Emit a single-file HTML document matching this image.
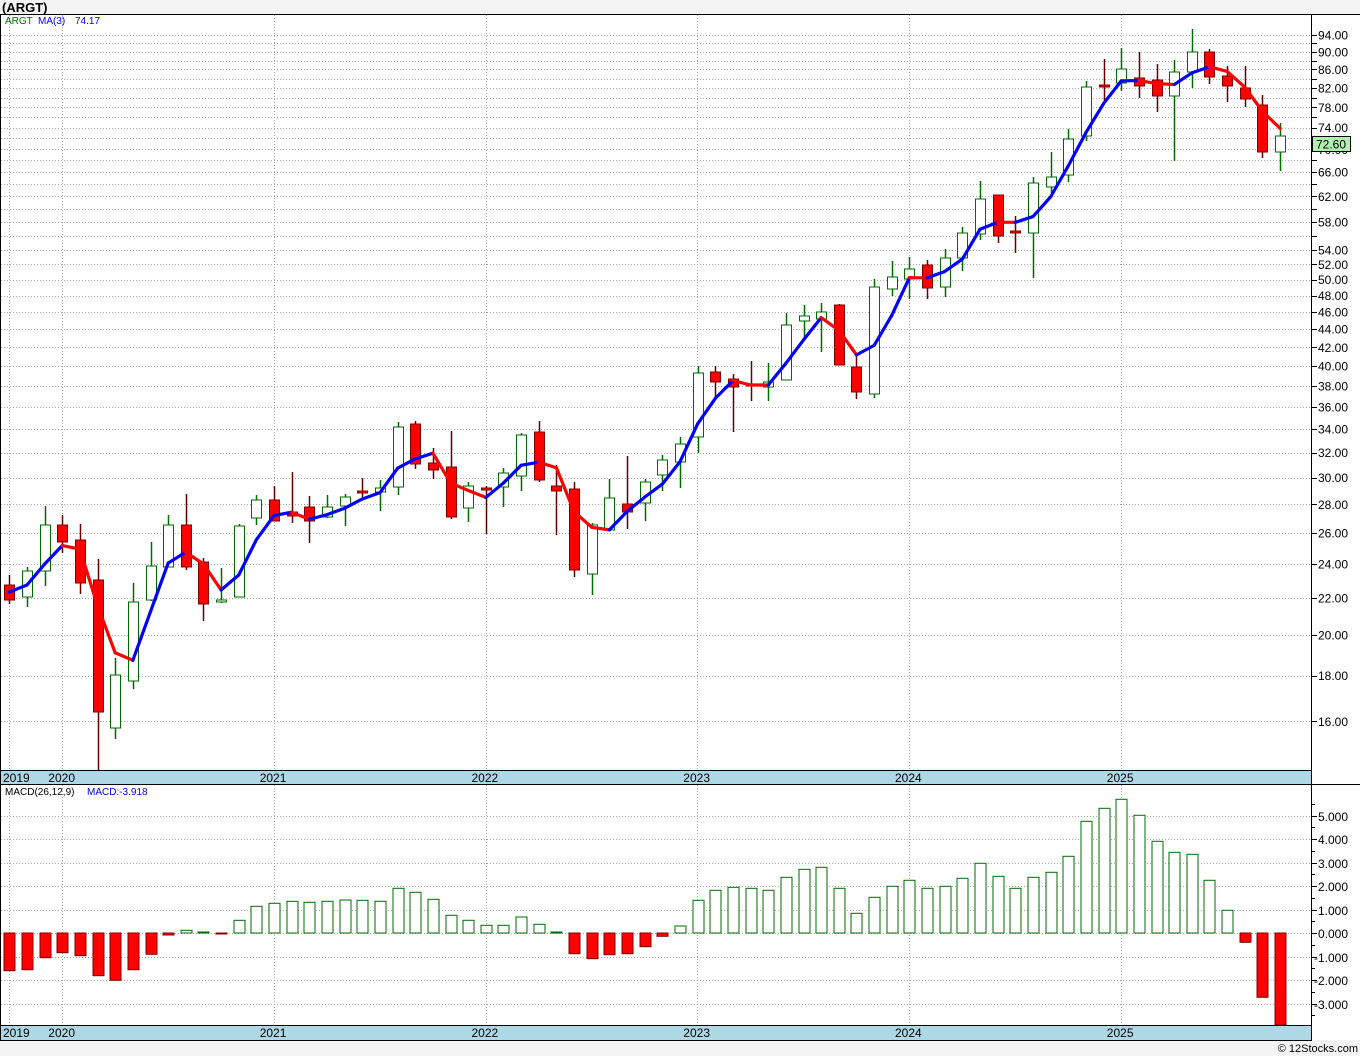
<!DOCTYPE html>
<html><head><meta charset="utf-8"><style>
html,body{margin:0;padding:0;background:#f4f4f4;}
svg{display:block;font-family:"Liberation Sans",sans-serif;}
</style></head><body>
<svg id="c" width="1360" height="1056" xmlns="http://www.w3.org/2000/svg">
<rect x="0" y="0" width="1360" height="1056" fill="#f4f4f4"/>
<text x="2" y="12" font-size="13" font-weight="bold" fill="#000">(ARGT)</text>
<rect x="0" y="14" width="1360" height="1026" fill="#fff"/>
<g id="g"></g>
</svg>
<script>
var S='';
function L(x1,y1,x2,y2,c,w,d){S+='<line x1="'+x1+'" y1="'+y1+'" x2="'+x2+'" y2="'+y2+'" stroke="'+c+'" stroke-width="'+(w||1)+'"'+(d?' stroke-dasharray="'+d+'"':'')+'/>';}
function R(x,y,w,h,f,s){S+='<rect x="'+x+'" y="'+y+'" width="'+w+'" height="'+h+'" fill="'+f+'"'+(s?' stroke="'+s+'" stroke-width="1"':'')+'/>';}
function T(x,y,t,c,sz,a){S+='<text x="'+x+'" y="'+y+'" font-size="'+(sz||12)+'" fill="'+(c||'#000')+'"'+(a?' text-anchor="'+a+'"':'')+'>'+t+'</text>';}
var LN94=Math.log(94),K=387.6;
function py(p){return 35+(LN94-Math.log(p))*K;}
function yp(y){return Math.exp(LN94-(y-35)/K);}
function cx(n){return 9.3+17.65*n;}
var yrs=[[9.3,'2019'],[62.3,'2020'],[273.7,'2021'],[485.5,'2022'],[697.3,'2023'],[909,'2024'],[1120.8,'2025']];
// main grid
for(var p=16;p<=94;p+=2){var y=Math.round(py(p))+0.5;L(1,y,1311,y,'#a8a8a8',1,'1,2');L(1311,y,1317,y,'#000');}
yrs.forEach(function(a){var x=Math.round(a[0])+0.5;L(x,15,x,770,'#a8a8a8',1,'1,2');L(x,785,x,1025,'#a8a8a8',1,'1,2');});
var labs=[94,90,86,82,78,74,70,66,62,58,54,52,50,48,46,44,42,40,38,36,34,32,30,28,26,24,22,20,18,16];
labs.forEach(function(p){T(1318,py(p)+4.5,p.toFixed(2),'#000',12);});
// MACD grid
for(var v=-3;v<=5;v++){var y=Math.round(933-23.5*v)+0.5;L(1,y,1311,y,'#a8a8a8',1,'1,2');L(1311,y,1317,y,'#000');T(v<0?1314:1318,y+4.5,v.toFixed(3),'#000',12);}
for(var v=-3.5;v<=5.5;v+=1){var y=Math.round(933-23.5*v)+0.5;L(1311,y,1315,y,'#000');}
// candles
var D=[[575,585,600,604,0],[567,571,597,607,1],[506,525,571,586,1],[515,525,542,553,0],[524,540,583,594,0],[559,580,712,770,0],[658,675,728,739,1],[583,602,681,689,1],[542,566,600,601,1],[515,525,567,567,1],[494,525,567,570,0],[558,562,604,621,0],[568,600,602,603,1],[524,526,597,597,1],[495,500,518,525,1],[486,500,521,521,0],[472,512,516,523,0],[496,507,521,543,0],[495,507,517,518,1],[494,497,506,526,1],[478,491,493,497,0],[480,488,492,511,1],[422,427,487,495,1],[421,424,464,469,0],[448,463,470,479,0],[431,467,517,519,0],[482,486,508,522,1],[486,488,490,534,0],[468,473,487,507,1],[433,435,476,491,1],[421,432,480,482,0],[465,486,491,535,0],[482,489,570,577,0],[523,525,574,595,1],[479,498,530,530,1],[456,504,512,529,0],[479,482,503,521,1],[455,460,475,491,1],[437,444,462,488,1],[366,373,437,453,1],[366,372,382,398,0],[374,379,387,432,0],[361,384,386,401,0],[363,382,387,401,1],[313,325,380,380,1],[305,316,321,340,1],[303,312,319,352,1],[304,305,365,365,0],[356,367,392,399,0],[279,287,394,398,1],[261,277,289,296,1],[257,269,279,299,1],[260,265,288,299,0],[249,258,287,297,1],[227,233,258,271,1],[181,199,234,240,1],[195,195,236,243,0],[216,231,233,253,0],[177,183,233,278,1],[152,177,187,193,1],[129,139,175,182,1],[81,87,136,141,1],[59,85,87,102,0],[48,69,83,91,1],[52,78,86,98,0],[64,80,96,112,0],[60,72,96,161,1],[29,52,72,88,1],[49,52,77,84,0],[66,76,86,102,0],[66,88,99,107,0],[95,105,152,158,0],[123,136,152,171,1]];
D.forEach(function(d,n){var x=Math.round(cx(n))+0.5;var c=d[4]?'#006a00':'#600000';
L(x,d[0],x,d[3],c,1.5);var h=Math.max(d[2]-d[1],1.5);
if(d[4])R(x-5,d[1],10,h,'#fff','#006a00');else R(x-5,d[1],10,h,'#ff0000','#800000');});
// MA
var cl=D.map(function(d){return yp(d[4]?d[1]:d[2]);});
var ma=[592,585];for(var i=2;i<D.length;i++){ma.push(py((cl[i]+cl[i-1]+cl[i-2])/3));}
for(var i=1;i<ma.length;i++){var c=ma[i]<ma[i-1]?'#0000ff':'#ff0000';S+='<line x1="'+cx(i-1)+'" y1="'+ma[i-1]+'" x2="'+cx(i)+'" y2="'+ma[i]+'" stroke="'+c+'" stroke-width="3.2" stroke-linecap="round"/>';}
// MACD
var M=[970.7,969.7,957.7,952.7,955.7,975.7,980.3,969.7,954.3,935,930.3,932,934,920.3,906.3,903.3,901.3,902.3,901.3,900,900.3,901.3,888.3,892.3,899.3,915.3,920.3,925.3,925.3,917,924.3,932,953.7,958.7,954.7,953.7,946.7,936.3,926,900.3,890.3,887.3,888.3,890.3,877.3,869.3,867.3,888.3,913.3,897.3,886.3,880.3,888.3,886.3,878.3,863.3,876.3,888.3,877.3,872.3,856.3,821.3,808.3,799.3,815.3,841.3,852.3,854.3,880.3,910.3,942.3,997.3,1025];
M.forEach(function(y,n){var x=Math.round(cx(n))-5;
if(y>933)R(x,933,11,y-933,'#ff0000','#800000');else R(x,y,11,933-y,'#fff','#006a00');});
// strips
R(0,770,1311,14,'#add8e6');L(0,770.5,1311,770.5,'#000');L(0,784.5,1360,784.5,'#000');
R(0,1025,1311,15,'#add8e6');L(0,1025.5,1311,1025.5,'#000');L(0,1040.5,1311,1040.5,'#000');
yrs.forEach(function(a,i){T(i==0?3:a[0]-14,782,a[1],'#000',12);T(i==0?3:a[0]-14,1037,a[1],'#000',12);});
// frame
L(0,14.5,1360,14.5,'#000');L(0.5,14,0.5,1041,'#000');L(1311.5,14,1311.5,1041,'#000');
// price box
R(1312.5,136.5,38,15,'#b0f0b0','#000');T(1316,148.5,'72.60','#000',12);
// headers
T(5,24,'ARGT','#006a00',10);T(38,24,'MA(3)','#0000ff',10);T(75,24,'74.17','#0000ff',10);
T(5,795,'MACD(26,12,9)','#000',10);T(87,795,'MACD:-3.918','#0000ff',10);
T(1358,1052,'© 12Stocks.com','#000',11,'end');
document.getElementById('g').innerHTML=S;
</script>
</body></html>
